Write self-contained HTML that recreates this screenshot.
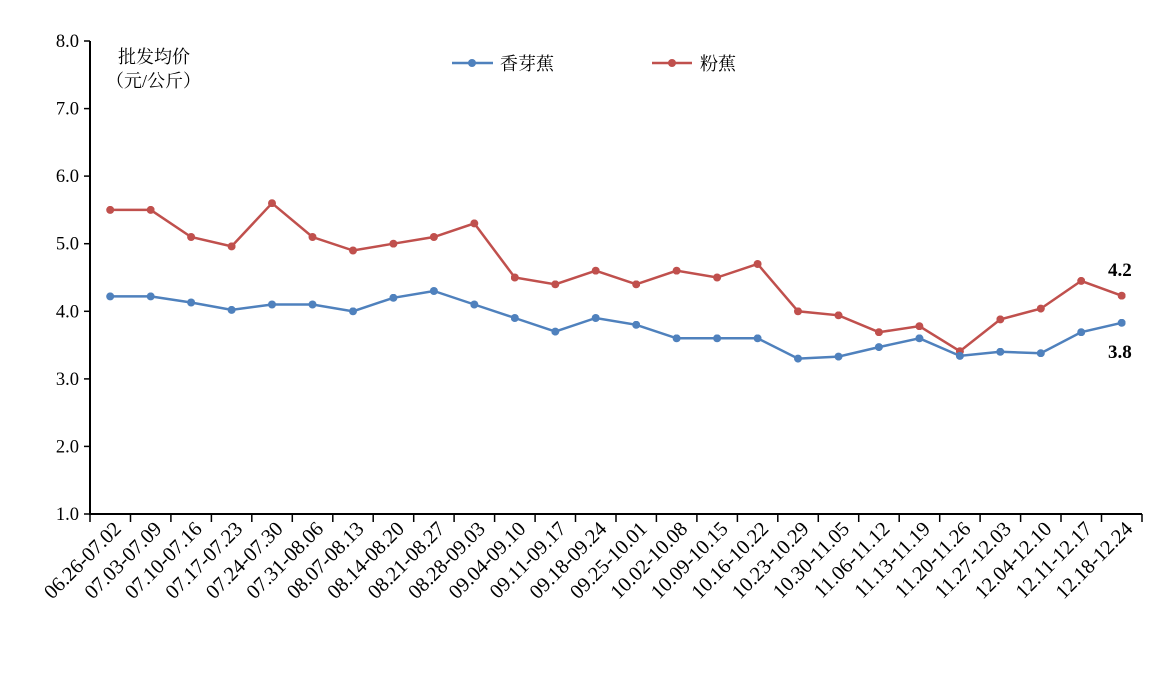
<!DOCTYPE html>
<html><head><meta charset="utf-8"><style>body{margin:0;background:#fff}svg{display:block}</style></head><body>
<svg width="1150" height="682" xmlns="http://www.w3.org/2000/svg" font-family="'Liberation Serif','Noto Serif CJK SC',serif">
<defs>
<marker id="mb" viewBox="0 0 10 10" refX="5" refY="5" markerWidth="8" markerHeight="8" markerUnits="userSpaceOnUse"><circle cx="5" cy="5" r="5" fill="#4f81bd"/></marker>
<marker id="mr" viewBox="0 0 10 10" refX="5" refY="5" markerWidth="8" markerHeight="8" markerUnits="userSpaceOnUse"><circle cx="5" cy="5" r="5" fill="#c0504d"/></marker>
</defs>
<rect width="1150" height="682" fill="#fff"/>
<g stroke="#000" stroke-width="1.5">
<line x1="90" y1="41" x2="90" y2="514" stroke-width="2"/>
<line x1="89" y1="514" x2="1142" y2="514" stroke-width="2"/>
<line x1="84" y1="514" x2="90" y2="514"/><line x1="84" y1="446.4" x2="90" y2="446.4"/><line x1="84" y1="378.9" x2="90" y2="378.9"/><line x1="84" y1="311.3" x2="90" y2="311.3"/><line x1="84" y1="243.7" x2="90" y2="243.7"/><line x1="84" y1="176.1" x2="90" y2="176.1"/><line x1="84" y1="108.6" x2="90" y2="108.6"/><line x1="84" y1="41" x2="90" y2="41"/>
<path d="M90 514v8M130.5 514v8M170.9 514v8M211.4 514v8M251.8 514v8M292.3 514v8M332.8 514v8M373.2 514v8M413.7 514v8M454.1 514v8M494.6 514v8M535.1 514v8M575.5 514v8M616 514v8M656.4 514v8M696.9 514v8M737.4 514v8M777.8 514v8M818.3 514v8M858.7 514v8M899.2 514v8M939.7 514v8M980.1 514v8M1020.6 514v8M1061 514v8M1101.5 514v8M1142 514v8"/>
</g>
<g font-size="18.5" text-anchor="end">
<text x="79" y="520">1.0</text><text x="79" y="452.4">2.0</text><text x="79" y="384.9">3.0</text><text x="79" y="317.3">4.0</text><text x="79" y="249.7">5.0</text><text x="79" y="182.1">6.0</text><text x="79" y="114.6">7.0</text><text x="79" y="47">8.0</text>
</g>
<g font-size="20.5" text-anchor="end">
<text transform="translate(122.2,530) rotate(-45)">06.26-07.02</text>
<text transform="translate(162.7,530) rotate(-45)">07.03-07.09</text>
<text transform="translate(203.1,530) rotate(-45)">07.10-07.16</text>
<text transform="translate(243.6,530) rotate(-45)">07.17-07.23</text>
<text transform="translate(284,530) rotate(-45)">07.24-07.30</text>
<text transform="translate(324.5,530) rotate(-45)">07.31-08.06</text>
<text transform="translate(365,530) rotate(-45)">08.07-08.13</text>
<text transform="translate(405.4,530) rotate(-45)">08.14-08.20</text>
<text transform="translate(445.9,530) rotate(-45)">08.21-08.27</text>
<text transform="translate(486.3,530) rotate(-45)">08.28-09.03</text>
<text transform="translate(526.8,530) rotate(-45)">09.04-09.10</text>
<text transform="translate(567.3,530) rotate(-45)">09.11-09.17</text>
<text transform="translate(607.7,530) rotate(-45)">09.18-09.24</text>
<text transform="translate(648.2,530) rotate(-45)">09.25-10.01</text>
<text transform="translate(688.6,530) rotate(-45)">10.02-10.08</text>
<text transform="translate(729.1,530) rotate(-45)">10.09-10.15</text>
<text transform="translate(769.6,530) rotate(-45)">10.16-10.22</text>
<text transform="translate(810,530) rotate(-45)">10.23-10.29</text>
<text transform="translate(850.5,530) rotate(-45)">10.30-11.05</text>
<text transform="translate(890.9,530) rotate(-45)">11.06-11.12</text>
<text transform="translate(931.4,530) rotate(-45)">11.13-11.19</text>
<text transform="translate(971.9,530) rotate(-45)">11.20-11.26</text>
<text transform="translate(1012.3,530) rotate(-45)">11.27-12.03</text>
<text transform="translate(1052.8,530) rotate(-45)">12.04-12.10</text>
<text transform="translate(1093.2,530) rotate(-45)">12.11-12.17</text>
<text transform="translate(1133.7,530) rotate(-45)">12.18-12.24</text>
</g>
<polyline fill="none" stroke="#c0504d" stroke-width="2.5" marker-start="url(#mr)" marker-mid="url(#mr)" marker-end="url(#mr)" points="110.2,209.9 150.7,209.9 191.1,237 231.6,246.4 272,203.2 312.5,237 353,250.5 393.4,243.7 433.9,237 474.3,223.4 514.8,277.5 555.3,284.3 595.7,270.7 636.2,284.3 676.6,270.7 717.1,277.5 757.6,264 798,311.3 838.5,315.3 878.9,332.2 919.4,326.2 959.9,351.2 1000.3,319.4 1040.8,308.6 1081.2,280.9 1121.7,295.7"/>
<polyline fill="none" stroke="#4f81bd" stroke-width="2.5" marker-start="url(#mb)" marker-mid="url(#mb)" marker-end="url(#mb)" points="110.2,296.4 150.7,296.4 191.1,302.5 231.6,309.9 272,304.5 312.5,304.5 353,311.3 393.4,297.8 433.9,291 474.3,304.5 514.8,318 555.3,331.6 595.7,318 636.2,324.8 676.6,338.3 717.1,338.3 757.6,338.3 798,358.6 838.5,356.6 878.9,347.1 919.4,338.3 959.9,355.9 1000.3,351.8 1040.8,353.2 1081.2,332.2 1121.7,322.8"/>
<line x1="452" y1="63" x2="493" y2="63" stroke="#4f81bd" stroke-width="2.5"/><circle cx="472" cy="63" r="4" fill="#4f81bd"/>
<text x="500" y="70" font-size="18">香芽蕉</text>
<line x1="652" y1="63" x2="692" y2="63" stroke="#c0504d" stroke-width="2.5"/><circle cx="672" cy="63" r="4" fill="#c0504d"/>
<text x="700" y="70" font-size="18">粉蕉</text>
<text x="118" y="63" font-size="18">批发均价</text>
<text x="106" y="87" font-size="18">（元/公斤）</text>
<text x="1108" y="276" font-size="19" font-weight="bold">4.2</text>
<text x="1108" y="358" font-size="19" font-weight="bold">3.8</text>
</svg>
</body></html>
